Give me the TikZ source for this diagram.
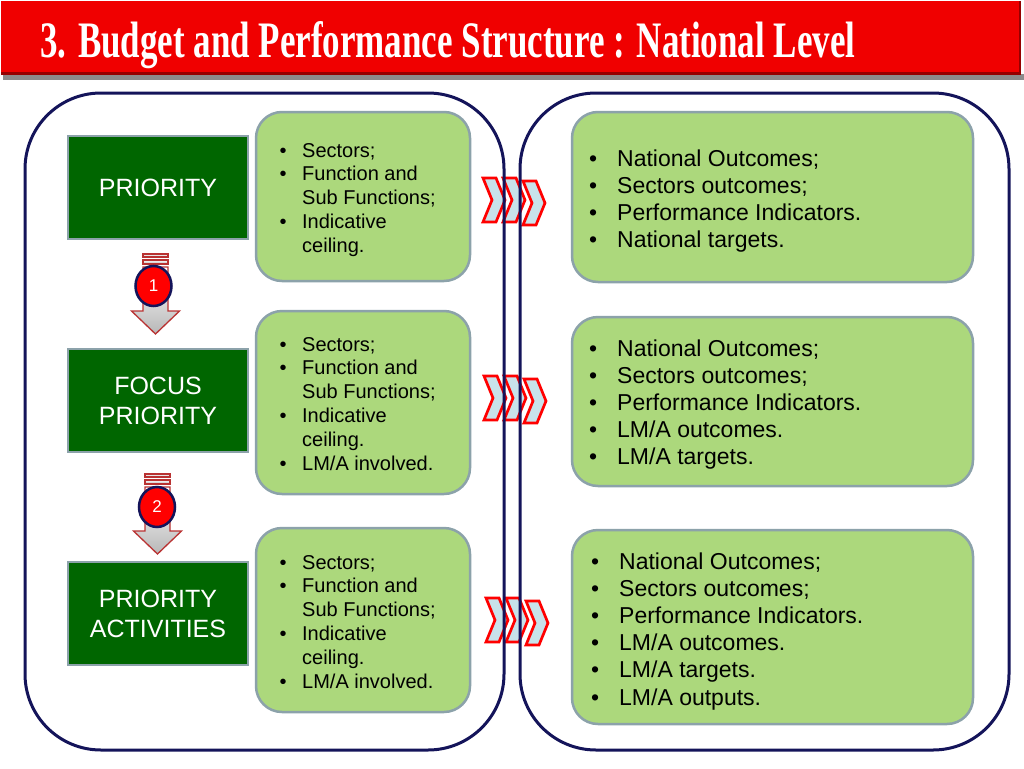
\documentclass[tikz,border=0pt]{standalone}
\usepackage{fontspec}
\usepackage{graphicx}
\setmainfont{Liberation Sans}
\newfontfamily\titlefont{Liberation Serif}
\usetikzlibrary{shapes.geometric}
\definecolor{lgreen}{RGB}{172,216,124}
\definecolor{boxedge}{RGB}{140,162,170}
\definecolor{dgreen}{RGB}{0,102,0}
\definecolor{navy}{RGB}{20,20,90}
\definecolor{titlered}{RGB}{240,0,0}
\definecolor{titledark}{RGB}{150,0,0}
\definecolor{chevfill}{RGB}{200,226,234}
\definecolor{arrowred}{RGB}{185,50,50}
\newcommand{\mybul}[1]{\makebox[#1][l]{•}}
\newcommand{\myind}[1]{\hspace*{#1}}
\newcommand{\titletext}{\resizebox{815pt}{36pt}{\titlefont\bfseries 3. Budget and Performance Structure : National Level}}
\newcommand{\chevron}[2]{%
  \draw[chevstyle] (#1,#2) -- ({#1+13},#2) -- ({#1+22},{#2+22}) -- ({#1+13},{#2+44}) -- (#1,{#2+44}) -- ({#1+9},{#2+22}) -- cycle;}
\newcommand{\chevgroup}[2]{%
  \chevron{#1}{#2}\chevron{#1+20}{#2}\chevron{#1+40}{#2+3}}
\newcommand{\stripearrow}[2]{%
  \draw[arrstyle] ({#1-12.5},#2) rectangle ({#1+12.5},{#2+3});
  \draw[arrstyle] ({#1-12.5},{#2+6}) rectangle ({#1+12.5},{#2+10});
  \draw[arrstyle] ({#1-12.5},{#2+13}) -- ({#1+12.5},{#2+13}) -- ({#1+12.5},{#2+57}) -- ({#1+24},{#2+57}) -- (#1,{#2+80}) -- ({#1-24},{#2+57}) -- ({#1-12.5},{#2+57}) -- cycle;}
\begin{document}
\begin{tikzpicture}[x=1pt,y=-1pt,
  dbox/.style={draw=boxedge, line width=2.5pt, fill=dgreen, text=white, minimum width=180pt, minimum height=103pt, align=center, font=\fontsize{25}{30}\selectfont},
  mbox/.style={draw=boxedge, line width=2.5pt, fill=lgreen, rounded corners=26pt},
  frame/.style={draw=navy, line width=3pt, rounded corners=76pt},
  mtext/.style={anchor=base west, inner sep=0pt, font=\fontsize{20}{23.8}\selectfont},
  rtext/.style={anchor=base west, inner sep=0pt, font=\fontsize{23}{27.2}\selectfont},
  chevstyle/.style={draw=red, line width=2.7pt, fill=chevfill, line join=miter},
  arrstyle/.style={draw=arrowred, line width=1.3pt, top color=white, bottom color=black!28},
  numc/.style={ellipse, draw=navy, line width=2.5pt, fill=red, text=white, minimum width=36pt, minimum height=40pt, inner sep=0pt, font=\fontsize{17}{20}\selectfont}
]
\useasboundingbox (0,0) rectangle (1024,768);
\fill[white] (0,0) rectangle (1024,768);
% title bar
\fill[black!45] (3,74) rectangle (1024,80);
\fill[titlered] (1,1) rectangle (1021,75);
\draw[titledark, line width=3pt] (1,73.5) -- (1021,73.5);
\draw[titledark, line width=1.5pt] (1020,1) -- (1020,75);
\node[anchor=base west, inner sep=0pt, text=white] (title) at (40,57) {\titletext};
% chevrons (drawn under frame lines)
\chevgroup{483}{178}
\chevgroup{484}{376}
\chevgroup{486}{598}
% outer frames
\draw[frame] (25,93) rectangle (504,750);
\draw[frame] (520,93) rectangle (1009,750);
% dark green boxes
\node[dbox] (d1) at (158,187.5) {PRIORITY};
\node[dbox] (d2) at (158,400.5) {FOCUS\\PRIORITY};
\node[dbox] (d3) at (158,613.5) {PRIORITY\\ACTIVITIES};
% middle boxes
\draw[mbox] (256,112) rectangle (470,281);
\draw[mbox] (256,311) rectangle (470,494);
\draw[mbox] (256,528) rectangle (470,712);
\node[mtext] (m1) at (279.5,157) {\begin{tabular}[t]{@{}l@{}}
\mybul{22.5pt}Sectors;\\
\mybul{22.5pt}Function and\\
\myind{22.5pt}Sub Functions;\\
\mybul{22.5pt}Indicative\\
\myind{22.5pt}ceiling.\end{tabular}};
\node[mtext] (m2) at (279.5,351) {\begin{tabular}[t]{@{}l@{}}
\mybul{22.5pt}Sectors;\\
\mybul{22.5pt}Function and\\
\myind{22.5pt}Sub Functions;\\
\mybul{22.5pt}Indicative\\
\myind{22.5pt}ceiling.\\
\mybul{22.5pt}LM/A involved.\end{tabular}};
\node[mtext] (m3) at (279.5,569) {\begin{tabular}[t]{@{}l@{}}
\mybul{22.5pt}Sectors;\\
\mybul{22.5pt}Function and\\
\myind{22.5pt}Sub Functions;\\
\mybul{22.5pt}Indicative\\
\myind{22.5pt}ceiling.\\
\mybul{22.5pt}LM/A involved.\end{tabular}};
% right boxes
\draw[mbox] (572,112) rectangle (973,282);
\draw[mbox] (572,317) rectangle (973,486);
\draw[mbox] (572,530) rectangle (973,724);
\node[rtext] (r1) at (589,166) {\begin{tabular}[t]{@{}l@{}}
\mybul{28pt}National Outcomes;\\
\mybul{28pt}Sectors outcomes;\\
\mybul{28pt}Performance Indicators.\\
\mybul{28pt}National targets.\end{tabular}};
\node[rtext] (r2) at (589,356) {\begin{tabular}[t]{@{}l@{}}
\mybul{28pt}National Outcomes;\\
\mybul{28pt}Sectors outcomes;\\
\mybul{28pt}Performance Indicators.\\
\mybul{28pt}LM/A outcomes.\\
\mybul{28pt}LM/A targets.\end{tabular}};
\node[rtext] (r3) at (591,569) {\begin{tabular}[t]{@{}l@{}}
\mybul{28pt}National Outcomes;\\
\mybul{28pt}Sectors outcomes;\\
\mybul{28pt}Performance Indicators.\\
\mybul{28pt}LM/A outcomes.\\
\mybul{28pt}LM/A targets.\\
\mybul{28pt}LM/A outputs.\end{tabular}};
% numbered striped arrows
\stripearrow{155.5}{254}
\node[numc] (n1) at (153.5,286) {1};
\stripearrow{157.5}{474}
\node[numc] (n2) at (157,507) {2};
\end{tikzpicture}
\end{document}
